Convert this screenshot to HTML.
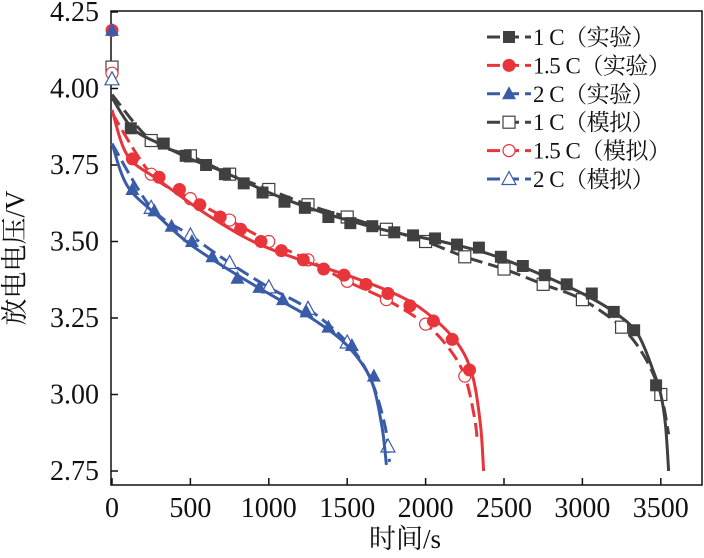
<!DOCTYPE html>
<html><head><meta charset="utf-8"><style>
body{margin:0;background:#fff}
svg text{font-family:"Liberation Serif","Noto Serif CJK SC",serif;fill:#111}
</style></head><body>
<svg id="c" width="704" height="553" xmlns="http://www.w3.org/2000/svg"></svg>
<script>
const xTicks=[0,500,1000,1500,2000,2500,3000,3500];
const yTicks=[2.75,3.00,3.25,3.50,3.75,4.00,4.25];
const line1C=[[0,3.97],[130,3.87],[300,3.82],[500,3.77],[700,3.73],[1000,3.66],[1200,3.62],[1500,3.57],[1800,3.53],[2100,3.50],[2400,3.46],[2700,3.40],[3000,3.33],[3200,3.27],[3350,3.20],[3450,3.08],[3500,3.00],[3530,2.90],[3550,2.75]];
const exp1C=[[120,3.87],[330,3.82],[470,3.78],[600,3.75],[720,3.72],[840,3.69],[960,3.66],[1100,3.63],[1230,3.61],[1380,3.58],[1520,3.56],[1660,3.55],[1800,3.53],[1920,3.52],[2060,3.51],[2200,3.49],[2340,3.48],[2480,3.45],[2620,3.42],[2760,3.39],[2900,3.36],[3060,3.33],[3200,3.27],[3330,3.21],[3470,3.03]];
const simLine1C=[[0,3.98],[250,3.83],[500,3.78],[750,3.72],[1000,3.67],[1250,3.62],[1500,3.58],[1750,3.54],[2000,3.50],[2250,3.45],[2500,3.41],[2750,3.36],[3000,3.31],[3250,3.22],[3400,3.12],[3500,3.00],[3550,2.87]];
const sim1C=[[0,4.07],[250,3.83],[500,3.78],[750,3.72],[1000,3.67],[1250,3.62],[1500,3.58],[1750,3.54],[2000,3.50],[2250,3.45],[2500,3.41],[2750,3.36],[3000,3.31],[3250,3.22],[3500,3.00]];
const line15C=[[0,3.93],[100,3.78],[300,3.70],[600,3.59],[900,3.50],[1200,3.44],[1500,3.39],[1800,3.33],[2000,3.27],[2200,3.17],[2300,3.06],[2350,2.90],[2370,2.75]];
const exp15C=[[0,4.19],[130,3.77],[300,3.71],[430,3.67],[560,3.62],[690,3.58],[820,3.54],[950,3.50],[1080,3.47],[1220,3.44],[1350,3.41],[1480,3.39],[1620,3.36],[1760,3.33],[1900,3.29],[2050,3.24],[2170,3.18],[2280,3.08]];
const simLine15C=[[0,3.92],[250,3.72],[500,3.64],[750,3.57],[1000,3.50],[1250,3.44],[1500,3.37],[1750,3.31],[2000,3.23],[2150,3.15],[2250,3.06],[2310,2.93],[2330,2.85]];
const sim15C=[[0,4.05],[250,3.72],[500,3.64],[750,3.57],[1000,3.50],[1250,3.44],[1500,3.37],[1750,3.31],[2000,3.23],[2250,3.06]];
const line2C=[[0,3.82],[100,3.68],[300,3.58],[500,3.49],[800,3.39],[1100,3.30],[1300,3.24],[1500,3.16],[1650,3.05],[1720,2.90],[1750,2.77]];
const exp2C=[[0,4.19],[130,3.67],[270,3.60],[380,3.55],[510,3.50],[640,3.45],[800,3.38],[940,3.35],[1090,3.31],[1240,3.27],[1380,3.22],[1530,3.16],[1670,3.06]];
const simLine2C=[[0,3.82],[250,3.61],[500,3.52],[750,3.43],[1000,3.35],[1250,3.28],[1500,3.17],[1650,3.05],[1740,2.90],[1770,2.78]];
const sim2C=[[0,4.03],[250,3.61],[500,3.52],[750,3.43],[1000,3.35],[1250,3.28],[1500,3.17],[1760,2.83]];

const L=111,R=702,T=11,B=485;
const X=t=>112+t*0.1568;
const Y=v=>12+(4.25-v)*306;
const NS="http://www.w3.org/2000/svg";
const svg=document.getElementById('c');
function el(tag,attrs,parent){const e=document.createElementNS(NS,tag);for(const k in attrs)e.setAttribute(k,attrs[k]);(parent||svg).appendChild(e);return e;}
const BLK="#404040",RED="#e8353b",BLU="#3a5ca8";

function pathD(pts){
  const p=pts.map(a=>[X(a[0]),Y(a[1])]);
  let d="M"+p[0][0]+","+p[0][1];
  for(let i=0;i<p.length-1;i++){
    const p0=p[i-1]||p[i],p1=p[i],p2=p[i+1],p3=p[i+2]||p2;
    const c1=[p1[0]+(p2[0]-p0[0])/6,p1[1]+(p2[1]-p0[1])/6];
    const c2=[p2[0]-(p3[0]-p1[0])/6,p2[1]-(p3[1]-p1[1])/6];
    d+=` C${c1} ${c2} ${p2}`;
  }
  return d;
}
function marker(type,cx,cy,col,g){
  let m;
  const filled=type.startsWith('f');
  const fill=filled?col:'#fff', sw=filled?0:1.2;
  if(type.endsWith('sq')) m=el('rect',{x:cx-6,y:cy-6,width:12,height:12,fill,stroke:col,'stroke-width':sw},g);
  else if(type.endsWith('ci')) m=el('circle',{cx,cy,r:filled?6.5:6,fill,stroke:col,'stroke-width':sw},g);
  else m=el('polygon',{points:`${cx},${cy-7.5} ${cx-7},${cy+5.5} ${cx+7},${cy+5.5}`,fill,stroke:col,'stroke-width':sw},g);
  return m;
}
function series(name,linePts,markPts,col,dash,mtype){
  const g=el('g',{});
  
  
  const p=el('path',{d:pathD(linePts),fill:'none',stroke:col,'stroke-width':3,'stroke-dasharray':dash?'14 6':'none'},g);
  
  
  markPts.forEach(a=>{const m=marker(mtype,X(a[0]),Y(a[1]),col,g);
    
    });
}
const fr=el('rect',{x:L,y:T,width:R-L,height:B-T,fill:'none',stroke:'#111','stroke-width':1.5});


yTicks.forEach(v=>{
  const tk=el('line',{x1:L,x2:L+7,y1:Y(v),y2:Y(v),stroke:'#111','stroke-width':1.5});
  
  
  const t=el('text',{x:99,y:Y(v)+9,'text-anchor':'end','font-size':28});
  t.textContent=v.toFixed(2);
  
  
});
xTicks.forEach(v=>{
  const tk=el('line',{x1:X(v),x2:X(v),y1:B,y2:B-7,stroke:'#111','stroke-width':1.5});
  
  
  const t=el('text',{x:X(v),y:517,'text-anchor':'middle','font-size':28});
  t.textContent=v;
  
  
});
const xt=el('text',{x:405,y:548,'text-anchor':'middle','font-size':27});
xt.textContent='时间/s';


const yt=el('text',{x:0,y:0,'text-anchor':'middle','font-size':27,transform:'translate(24,258) rotate(-90)'});
yt.textContent='放电电压/V';



series('sim-1c',simLine1C,sim1C,BLK,true,'osq');
series('exp-1c',line1C,exp1C,BLK,false,'fsq');
series('sim-1-5c',simLine15C,sim15C,RED,true,'oci');
series('exp-1-5c',line15C,exp15C,RED,false,'fci');
series('sim-2c',simLine2C,sim2C,BLU,true,'otr');
series('exp-2c',line2C,exp2C,BLU,false,'ftr');

const leg=[['1 C（实验）',BLK,'fsq'],['1.5 C（实验）',RED,'fci'],['2 C（实验）',BLU,'ftr'],['1 C（模拟）',BLK,'osq'],['1.5 C（模拟）',RED,'oci'],['2 C（模拟）',BLU,'otr']];
leg.forEach((e,i)=>{
  const y=37+i*28.4;
  const g=el('g',{});
  
  
  el('line',{x1:487,x2:531,y1:y,y2:y,stroke:e[1],'stroke-width':3,'stroke-dasharray':'13 6'},g);
  marker(e[2],509,y,e[1],g);
  const t=el('text',{x:533,y:y+8,'font-size':23,'letter-spacing':'-0.5'},g);
  t.textContent=e[0];
});
</script>
</body></html>
